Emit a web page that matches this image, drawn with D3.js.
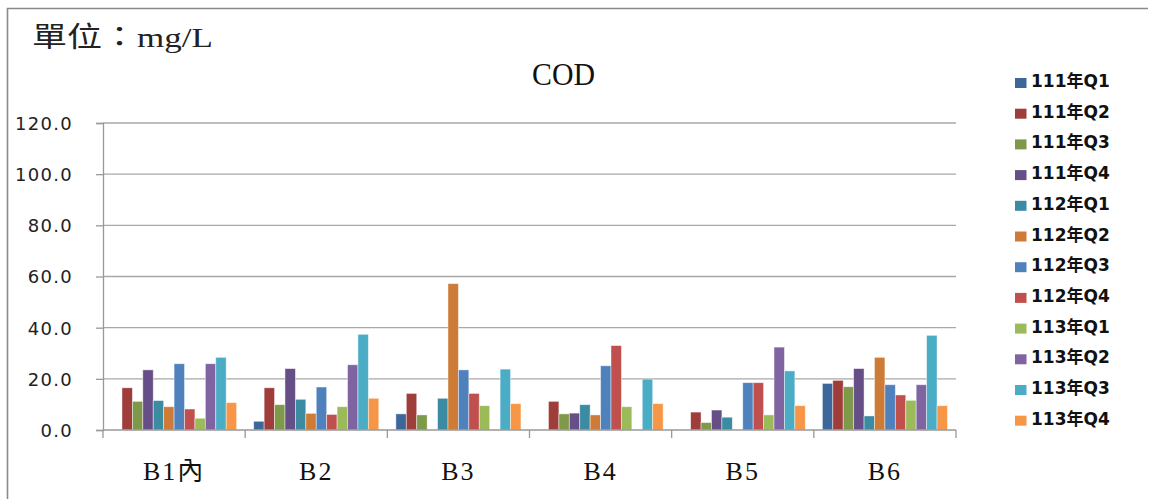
<!DOCTYPE html>
<html><head><meta charset="utf-8">
<script src="https://cdn.jsdelivr.net/npm/d3@7"></script>
<style>
html,body{margin:0;padding:0;background:#fff;}
svg{display:block;}
</style></head>
<body>
<svg id="c" width="1157" height="499"></svg>
<script>
const categories = ["B1內","B2","B3","B4","B5","B6"];
const seriesNames = ["111年Q1","111年Q2","111年Q3","111年Q4","112年Q1","112年Q2","112年Q3","112年Q4","113年Q1","113年Q2","113年Q3","113年Q4"];
const seriesColors = ["#3D669B","#9E3D3A","#7E994A","#664F87","#3B8CA3","#CD7B36","#4F81BD","#C0504D","#9BBB59","#8064A2","#4BACC6","#F79646"];
// values per series, in category order (null = no bar)
const v111Q1 = [null, 3.4, 6.3, null, null, 18.2];
const v111Q2 = [16.5, 16.5, 14.3, 11.2, 7.0, 19.4];
const v111Q3 = [11.2, 9.9, 5.9, 6.3, 2.9, 16.9];
const v111Q4 = [23.5, 24.0, null, 6.6, 7.8, 24.0];
const v112Q1 = [11.5, 12.0, 12.4, 9.9, 5.0, 5.5];
const v112Q2 = [9.1, 6.5, 57.2, 5.9, null, 28.4];
const v112Q3 = [25.9, 16.8, 23.5, 25.1, 18.5, 17.7];
const v112Q4 = [8.2, 6.1, 14.3, 33.0, 18.5, 13.7];
const v113Q1 = [4.6, 9.1, 9.5, 9.1, 5.9, 11.6];
const v113Q2 = [25.9, 25.5, null, null, 32.4, 17.7];
const v113Q3 = [28.4, 37.4, 23.8, 19.9, 23.1, 37.0];
const v113Q4 = [10.7, 12.4, 10.3, 10.3, 9.5, 9.5];
const seriesValues = [v111Q1,v111Q2,v111Q3,v111Q4,v112Q1,v112Q2,v112Q3,v112Q4,v113Q1,v113Q2,v113Q3,v113Q4];
const yTicks = [0,20,40,60,80,100,120];
const unitLabel = "單位：mg/L";
const chartTitle = "COD";

const svg = d3.select("#c");
const L = 103, R = 956, T = 123, B = 430;
const serif = "'Liberation Serif','Noto Sans CJK TC',serif";
const sans = "'DejaVu Sans','Noto Sans CJK TC',sans-serif";

// frame
svg.append("path").attr("d","M7.5,499 L7.5,8.5 L1148,8.5")
  .attr("fill","none").attr("stroke","#8a8a8a").attr("stroke-width",1.6);

svg.append("text").attr("x",32).attr("y",47).attr("font-family",serif)
  .attr("font-size",28).attr("fill","#222").attr("textLength",181)
  .attr("lengthAdjust","spacingAndGlyphs").text(unitLabel);
svg.append("text").attr("x",532).attr("y",85).attr("font-family",serif)
  .attr("font-size",31).attr("fill","#111").attr("textLength",63)
  .attr("lengthAdjust","spacingAndGlyphs").text(chartTitle);

const y = d3.scaleLinear().domain([0,120]).range([B,T]);
const x0 = d3.scaleBand().domain(categories).range([L,R]).padding(0);
const x1 = d3.scaleBand().domain(seriesNames).range([0,x0.bandwidth()]).paddingInner(0).paddingOuter(0.82);

// gridlines
svg.append("g").selectAll("line").data(yTicks.filter(t=>t>0)).join("line")
  .attr("x1",L).attr("x2",R).attr("y1",d=>y(d)).attr("y2",d=>y(d))
  .attr("stroke","#a8a8a8").attr("stroke-width",1.3);

// y axis
const ya = svg.append("g").attr("transform",`translate(${L},0)`)
  .call(d3.axisLeft(y).tickValues(yTicks).tickSize(7).tickPadding(23).tickFormat(d3.format(".1f")));
ya.select(".domain").attr("stroke","#999").attr("stroke-width",1.3);
ya.selectAll(".tick line").attr("stroke","#999").attr("stroke-width",1.3);
ya.selectAll(".tick text").attr("font-family",sans).attr("font-size",18)
  .attr("fill","#222").attr("letter-spacing",1.3).attr("dy","0.36em");

// bars
const data = [];
seriesValues.forEach((arr,si)=>arr.forEach((v,ci)=>{ if(v!=null) data.push({s:seriesNames[si],c:categories[ci],v,color:seriesColors[si]}); }));
svg.append("g").selectAll("rect").data(data).join("rect")
  .attr("x",d=>x0(d.c)+x1(d.s)).attr("width",x1.bandwidth())
  .attr("y",d=>y(d.v)).attr("height",d=>B-y(d.v))
  .attr("fill",d=>d.color).attr("stroke","rgba(255,255,255,0.55)").attr("stroke-width",0.8);

// x axis
const xa = svg.append("g").attr("transform",`translate(0,${B})`)
  .call(d3.axisBottom(x0).tickSize(0).tickPadding(30));
xa.select(".domain").remove();
svg.append("line").attr("x1",L).attr("x2",R).attr("y1",B).attr("y2",B).attr("stroke","#999").attr("stroke-width",1.3);
const bounds = categories.map(c=>x0(c)).concat([x0(categories[categories.length-1])+x0.bandwidth()]);
svg.append("g").selectAll("line").data(bounds).join("line")
  .attr("x1",d=>d).attr("x2",d=>d).attr("y1",B).attr("y2",B+8)
  .attr("stroke","#999").attr("stroke-width",1.3);
xa.selectAll(".tick text").attr("font-family",serif).attr("font-size",26)
  .attr("fill","#111").attr("letter-spacing",2).attr("dy","0.75em");

// legend
const lg = svg.append("g").selectAll("g").data(seriesNames).join("g")
  .attr("transform",(d,i)=>`translate(1015,${78 + i*30.7})`);
lg.append("rect").attr("width",11.5).attr("height",10).attr("fill",(d,i)=>seriesColors[i]);
lg.append("text").attr("x",16).attr("y",9).attr("font-family",sans).attr("font-weight","bold")
  .attr("font-size",17).attr("fill","#111").text(d=>d);
</script>
</body></html>
